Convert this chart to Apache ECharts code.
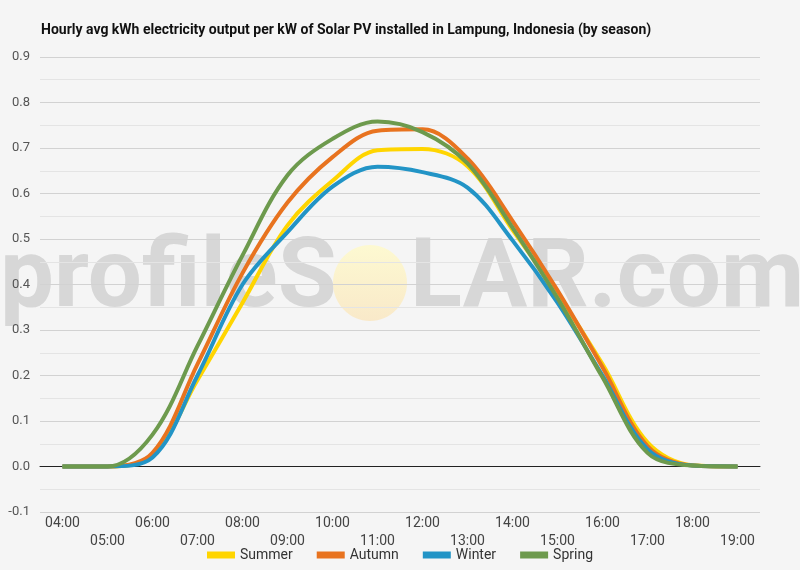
<!DOCTYPE html>
<html>
<head>
<meta charset="utf-8">
<script src="https://cdn.jsdelivr.net/npm/echarts@6/dist/echarts.min.js"></script>
<style>
  html, body { margin: 0; padding: 0; background: #f5f5f5; }
  #chart { width: 800px; height: 570px; }
</style>
</head>
<body>
<div id="chart"></div>
<script>
  const hours = ['04:00', '05:00', '06:00', '07:00', '08:00', '09:00', '10:00', '11:00',
    '12:00', '13:00', '14:00', '15:00', '16:00', '17:00', '18:00', '19:00'];
  const summer = [0, 0, 0.025, 0.19, 0.36, 0.53, 0.628, 0.695, 0.698, 0.66, 0.52, 0.38, 0.225, 0.053, 0.003, 0];
  const autumn = [0, 0, 0.03, 0.225, 0.425, 0.58, 0.68, 0.738, 0.741, 0.677, 0.54, 0.387, 0.218, 0.045, 0.002, 0];
  const winter = [0, 0, 0.02, 0.2, 0.40, 0.515, 0.615, 0.659, 0.647, 0.613, 0.497, 0.36, 0.2, 0.038, 0.002, 0];
  const spring = [0, 0, 0.07, 0.265, 0.464, 0.64, 0.72, 0.758, 0.735, 0.666, 0.525, 0.37, 0.196, 0.03, 0.002, 0];

  const seasons = [
    { name: 'Summer', data: summer, color: '#ffd500' },
    { name: 'Autumn', data: autumn, color: '#e8731f' },
    { name: 'Winter', data: winter, color: '#2294c6' },
    { name: 'Spring', data: spring, color: '#6d9a4d' },
  ];

  const chart = echarts.init(document.getElementById('chart'));
  const font = 'Roboto, sans-serif';
  const markColor = 'rgba(190,190,190,0.55)';

  const option = {
    backgroundColor: '#f5f5f5',
    textStyle: { fontFamily: font },
    title: {
      text: 'Hourly avg kWh electricity output per kW of Solar PV installed in Lampung, Indonesia (by season)',
      left: 36,
      top: 18,
      textStyle: { fontSize: 14, fontWeight: 'bold', color: '#111', fontFamily: font },
    },
    // watermark
    graphic: [
      {
        type: 'group',
        z: -10,
        silent: true,
        children: [
          {
            type: 'text',
            left: 0,
            top: 234,
            style: { text: 'profileS', font: 'bold 96px Roboto', fill: markColor },
          },
          {
            type: 'ellipse',
            shape: { cx: 370, cy: 283, rx: 37, ry: 38 },
            style: {
              fill: new echarts.graphic.LinearGradient(0, 0, 0, 1, [
                { offset: 0, color: 'rgba(255,250,200,0.8)' },
                { offset: 1, color: 'rgba(250,230,190,0.8)' },
              ]),
            },
          },
          {
            type: 'text',
            left: 410,
            top: 234,
            style: { text: 'LAR.com', font: 'bold 96px Roboto', fill: markColor },
          },
        ],
      },
    ],
    legend: {
      bottom: 3,
      left: 'center',
      icon: 'rect',
      itemWidth: 28,
      itemHeight: 7,
      itemGap: 24,
      textStyle: { fontSize: 14, color: '#333', fontFamily: font },
      data: seasons.map((s) => s.name),
    },
    grid: {
      left: 40,
      right: 40,
      top: 57,
      bottom: 58,
      outerBoundsMode: 'none',
      containLabel: false,
    },
    xAxis: {
      type: 'category',
      data: hours,
      boundaryGap: true,
      axisTick: { show: false },
      axisLine: { onZero: true, lineStyle: { color: '#222', width: 1 } },
      axisLabel: {
        interval: 0,
        fontSize: 14,
        color: '#444',
        margin: 2,
        lineHeight: 18,
        formatter: (v, i) => (i % 2 === 0 ? v : '\n' + v),
      },
    },
    yAxis: {
      type: 'value',
      min: -0.1,
      max: 0.9,
      interval: 0.1,
      axisLine: { show: false },
      axisTick: { show: false },
      axisLabel: {
        fontSize: 13,
        color: '#555',
        margin: 10,
        formatter: (v) => v.toFixed(1),
      },
      splitLine: { lineStyle: { color: '#d2d2d2', width: 1 } },
      minorTick: { show: false, splitNumber: 2 },
      minorSplitLine: { show: true, lineStyle: { color: '#e4e4e4', width: 1 } },
    },
    series: seasons.map((s) => ({
      name: s.name,
      type: 'line',
      data: s.data,
      smooth: 0.35,
      symbol: 'none',
      z: 3,
      lineStyle: { width: 4, color: s.color },
      itemStyle: { color: s.color },
    })),
  };

  chart.setOption(option);
</script>
</body>
</html>
